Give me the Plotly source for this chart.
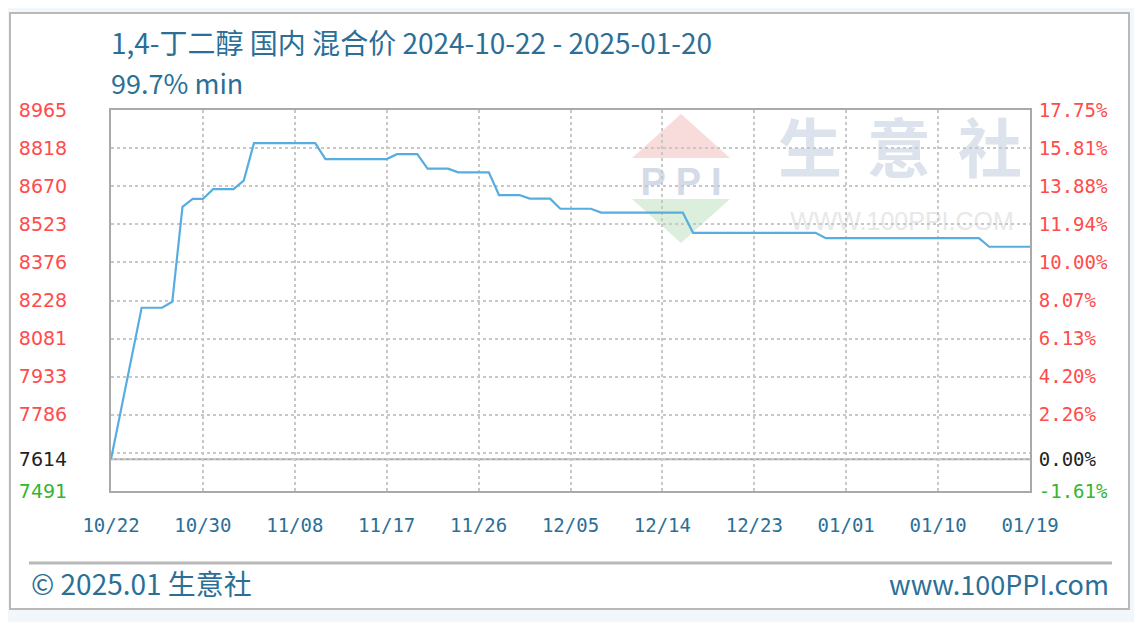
import plotly.graph_objects as go

# ---------------- data ----------------
title_text = "1,4-丁二醇 国内 混合价 2024-10-22 - 2025-01-20"
subtitle_text = "99.7% min"
footer_left = "© 2025.01 生意社"
footer_right = "www.100PPI.com"

prices = [
    7614, 7805, 8004, 8200, 8200, 8200, 8223, 8590, 8621, 8621,
    8659, 8659, 8659, 8692, 8837, 8837, 8837, 8837, 8837, 8837,
    8837, 8775, 8775, 8775, 8775, 8775, 8775, 8775, 8794, 8794,
    8794, 8738, 8738, 8738, 8724, 8724, 8724, 8724, 8636, 8636,
    8636, 8622, 8622, 8622, 8583, 8583, 8583, 8583, 8568, 8568,
    8568, 8568, 8568, 8568, 8568, 8568, 8568, 8490, 8490, 8490,
    8490, 8490, 8490, 8490, 8490, 8490, 8490, 8490, 8490, 8490,
    8469, 8469, 8469, 8469, 8469, 8469, 8469, 8469, 8469, 8469,
    8469, 8469, 8469, 8469, 8469, 8469, 8436, 8436, 8436, 8436,
    8436,
]
x_tick_labels = ["10/22", "10/30", "11/08", "11/17", "11/26", "12/05",
                 "12/14", "12/23", "01/01", "01/10", "01/19"]
y_min, y_max = 7491, 8965
# grid labels bottom -> top (one per grid line); "" = unlabeled line
left_grid_labels = ["7491", "", "7786", "7933", "8081", "8228", "8376",
                    "8523", "8670", "8818", "8965"]
right_grid_labels = ["-1.61%", "", "2.26%", "4.20%", "6.13%", "8.07%",
                     "10.00%", "11.94%", "13.88%", "15.81%", "17.75%"]
base_label_left = "7614"
base_label_right = "0.00%"

# ---------------- geometry (page pixel coords) ----------------
PAGE_W, PAGE_H = 1142, 622
OFF = 8                      # default page body margin
W, H = PAGE_W - OFF, PAGE_H - OFF
L, R, T, B = 111, 1030, 110, 491
def px(xp):
    return (xp - L) / (R - L)
def py(yp):
    return (B - yp) / (B - T)

RED, BLACK, GREEN = "#ff4b4b", "#222222", "#33b533"
base = prices[0]
n_grid = len(left_grid_labels) - 1
grid_vals = [y_min + (y_max - y_min) * k / n_grid for k in range(n_grid + 1)]

def colored(label, v):
    if label == "":
        return ""
    c = GREEN if v < base else RED
    return f"<span style='color:{c}'>{label}</span>"

tickvals = grid_vals + [base]
left_text = [colored(l, v) for l, v in zip(left_grid_labels, grid_vals)] + \
    [f"<span style='color:{BLACK}'>{base_label_left}</span>"]
right_text = [colored(l, v) for l, v in zip(right_grid_labels, grid_vals)] + \
    [f"<span style='color:{BLACK}'>{base_label_right}</span>"]

xs = list(range(len(prices)))
n_x = len(x_tick_labels) - 1
x_span = len(prices) - 1
x_tickvals = [x_span * k / n_x for k in range(n_x + 1)]

fig = go.Figure()
fig.add_trace(go.Scatter(x=xs, y=prices, mode="lines",
                         line=dict(color="#58ade0", width=2.2),
                         hoverinfo="skip", showlegend=False))
fig.add_trace(go.Scatter(x=xs, y=prices, mode="lines", yaxis="y2",
                         line=dict(color="rgba(0,0,0,0)", width=0),
                         hoverinfo="skip", showlegend=False))

grid_color = "#c8c8c8"
grid_dash = "3px,3px"
fig.update_layout(
    width=W, height=H,
    margin=dict(l=L - OFF, r=PAGE_W - R, t=T - OFF, b=PAGE_H - B, pad=0),
    paper_bgcolor="#f2f7fc",
    plot_bgcolor="#ffffff",
    showlegend=False,
    xaxis=dict(range=[0, x_span], tickmode="array", tickvals=x_tickvals,
               ticktext=x_tick_labels, showgrid=True, gridcolor=grid_color,
               griddash=grid_dash, gridwidth=1.5, zeroline=False,
               showline=True, mirror=True, linecolor="#a9a9a9", linewidth=2,
               ticks="outside", ticklen=16, tickcolor="rgba(0,0,0,0)",
               tickfont=dict(family="DejaVu Sans Mono", size=19, color="#2b6f97")),
    yaxis=dict(range=[y_min, y_max], tickmode="array", tickvals=tickvals,
               ticktext=left_text, showgrid=True, gridcolor=grid_color,
               griddash=grid_dash, gridwidth=1.5, zeroline=False,
               showline=True, mirror=True, linecolor="#a9a9a9", linewidth=2,
               ticks="outside", ticklen=38, tickcolor="rgba(0,0,0,0)",
               tickfont=dict(family="DejaVu Sans", size=19, color=RED)),
    yaxis2=dict(range=[y_min, y_max], overlaying="y", side="right",
                tickmode="array", tickvals=tickvals, ticktext=right_text,
                showgrid=False, zeroline=False, showline=False,
                ticks="outside", ticklen=4, tickcolor="rgba(0,0,0,0)",
                tickfont=dict(family="DejaVu Sans Mono", size=19, color=RED)),
)

shapes = []
# white panel
shapes.append(dict(type="rect", xref="paper", yref="paper", layer="below",
                   x0=px(10), x1=px(1129), y0=py(609), y1=py(13),
                   fillcolor="#ffffff", line=dict(color="#b9b9b9", width=2)))
# watermark logo
def tri(pts, color):
    path = "M " + " L ".join(f"{px(a)},{py(b)}" for a, b in pts) + " Z"
    return dict(type="path", xref="paper", yref="paper", layer="below",
                path=path, fillcolor=color, line=dict(width=0))
shapes.append(tri([(632, 158), (730, 158), (681, 114)], "#f8dcdc"))
shapes.append(tri([(632, 199), (730, 199), (681, 243)], "#dcefdd"))
def wm_text(text, cx, cy, size, color, family, w=60, h=40):
    return dict(type="rect", xref="paper", yref="paper", layer="below",
                x0=px(cx - w), x1=px(cx + w), y0=py(cy + h), y1=py(cy - h),
                line=dict(width=0), fillcolor="rgba(0,0,0,0)",
                label=dict(text=text, textposition="middle center",
                           font=dict(size=size, color=color, family=family)))
shapes.append(wm_text("<b>P P I</b>", 681, 178, 38, "#d3dbe8", "Liberation Sans"))
for ch, cx in zip("生意社", [810, 899, 990]):
    shapes.append(wm_text(f"<b>{ch}</b>", cx, 154, 64, "#dde3ec", "Noto Sans CJK SC"))
shapes.append(wm_text("WWW.100PPI.COM", 902, 219, 25, "#e8e8e8", "Liberation Sans", w=140))
# footer rule
shapes.append(dict(type="line", xref="paper", yref="paper", layer="above",
                   x0=px(29), x1=px(1112), y0=py(563), y1=py(563),
                   line=dict(color="#b8b8b8", width=3)))
# base line at start price
shapes.append(dict(type="line", xref="paper", yref="y", layer="between",
                   x0=0, x1=1, y0=base, y1=base,
                   line=dict(color="#a9a9a9", width=2)))
fig.update_layout(shapes=shapes)

txt_color = "#2b6f97"
cjk = "Noto Sans CJK SC"
fig.add_annotation(text=title_text, xref="paper", yref="paper", x=px(109), y=py(42),
                   xanchor="left", yanchor="middle", showarrow=False,
                   font=dict(family=cjk, size=28, color=txt_color))
fig.add_annotation(text=subtitle_text, xref="paper", yref="paper", x=px(109), y=py(82),
                   xanchor="left", yanchor="middle", showarrow=False,
                   font=dict(family=cjk, size=27, color=txt_color))
fig.add_annotation(text=footer_left, xref="paper", yref="paper", x=px(29), y=py(583),
                   xanchor="left", yanchor="middle", showarrow=False,
                   font=dict(family=cjk, size=28, color=txt_color))
fig.add_annotation(text=footer_right, xref="paper", yref="paper", x=px(1111), y=py(583),
                   xanchor="right", yanchor="middle", showarrow=False,
                   font=dict(family=cjk, size=27, color=txt_color))

fig.write_html("out.html")
